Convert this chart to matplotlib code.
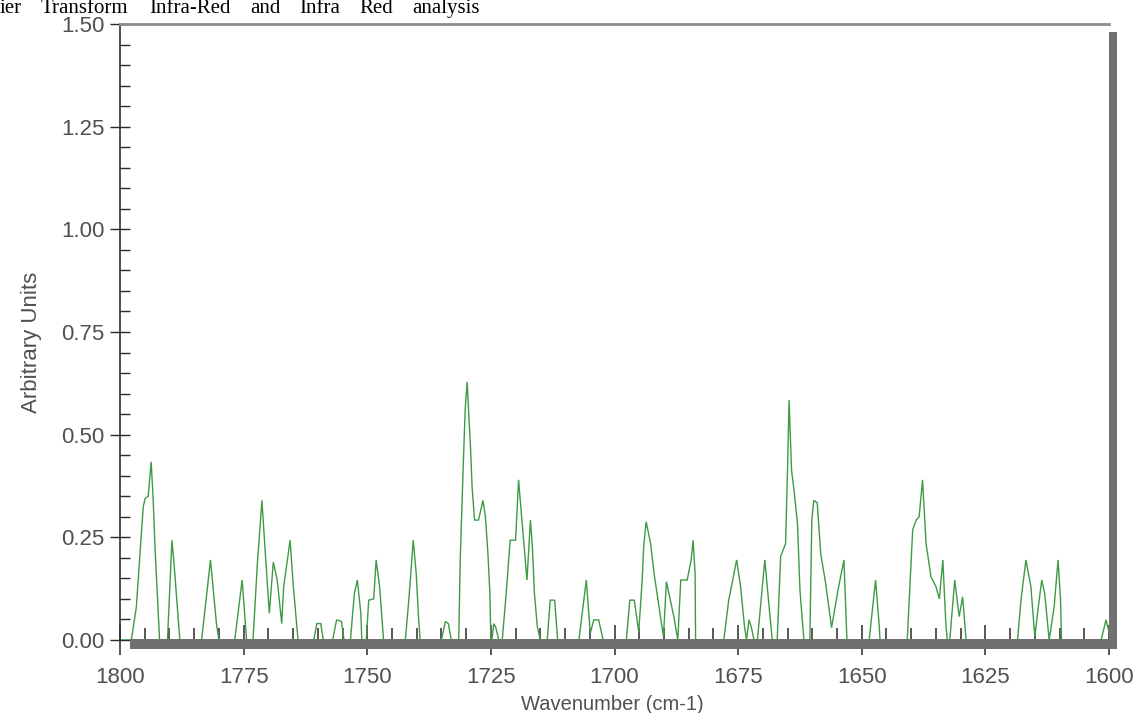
import matplotlib
matplotlib.use("Agg")
import matplotlib.pyplot as plt
from matplotlib.patches import Rectangle
from matplotlib.ticker import MultipleLocator

# ---------------- data ----------------
wavenumber = [
    1800.0, 1797.7, 1796.7, 1795.3, 1794.9, 1794.3, 1793.7, 1793.3, 1792.9, 1792.0,
    1790.4, 1789.5, 1789.1, 1787.9,
    1783.5, 1781.7, 1780.5, 1780.0,
    1776.8, 1775.3, 1774.4,
    1773.1, 1772.2, 1771.3, 1770.5, 1769.8, 1769.0, 1768.2, 1767.3, 1766.9, 1765.6, 1765.0, 1764.0,
    1760.8, 1760.2, 1759.4, 1758.9,
    1757.0, 1756.2, 1755.2, 1754.7,
    1753.4, 1752.6, 1752.0, 1751.3, 1751.1,
    1750.2, 1749.7, 1748.7, 1748.2, 1747.5, 1746.7,
    1742.3, 1741.6, 1740.7, 1740.1, 1739.6, 1739.3,
    1735.0, 1734.2, 1733.6, 1733.0,
    1731.5, 1731.2, 1730.6, 1730.2, 1729.8, 1729.5, 1729.1, 1728.8, 1728.3, 1727.5,
    1726.6, 1726.1, 1725.6, 1725.2, 1725.0,
    1724.8, 1724.4, 1724.0, 1723.4,
    1722.7, 1721.9, 1721.1, 1720.0, 1719.4, 1718.9, 1718.5, 1717.7, 1717.0, 1716.6,
    1716.2, 1715.6, 1715.0,
    1713.6, 1713.0, 1712.1, 1711.5,
    1707.2, 1705.7, 1704.9, 1704.2, 1703.2, 1702.3,
    1697.6, 1696.9, 1696.0, 1695.1, 1694.4, 1694.1, 1693.6, 1692.7, 1692.0, 1691.2,
    1690.1, 1689.5, 1688.7, 1688.0, 1687.2, 1686.6, 1685.3, 1684.5, 1684.1, 1683.7, 1683.6,
    1677.9, 1676.9, 1675.3, 1674.5, 1673.7, 1673.3, 1672.8, 1672.3, 1671.8,
    1671.1, 1669.6, 1668.8, 1668.1,
    1667.1, 1666.4, 1665.4, 1665.0, 1664.7, 1664.2, 1663.7, 1663.0, 1662.5, 1661.7,
    1660.5, 1660.1, 1659.7, 1659.0, 1658.3, 1657.3, 1656.1, 1654.8, 1653.6, 1653.0,
    1648.5, 1647.2, 1646.5, 1646.3,
    1640.8, 1639.7, 1639.0, 1638.4, 1637.7, 1637.0, 1636.0, 1635.0, 1634.3, 1633.6,
    1633.0, 1632.7,
    1632.2, 1631.2, 1630.3, 1629.6, 1628.9,
    1618.5, 1617.8, 1616.8, 1615.8, 1615.0, 1614.3, 1613.6, 1613.0, 1612.1, 1611.1,
    1610.3, 1609.8, 1609.6,
    1601.6, 1600.6, 1600.0,
]
absorbance = [
    0.0, 0.0, 0.08, 0.325, 0.345, 0.35, 0.434, 0.345, 0.22, 0.0,
    0.0, 0.243, 0.19, 0.0,
    0.0, 0.195, 0.04, 0.0,
    0.0, 0.146, 0.0,
    0.0, 0.19, 0.34, 0.19, 0.065, 0.19, 0.146, 0.04, 0.13, 0.243, 0.138, 0.0,
    0.0, 0.04, 0.04, 0.0,
    0.0, 0.049, 0.045, 0.0,
    0.0, 0.114, 0.146, 0.065, 0.0,
    0.0, 0.097, 0.10, 0.195, 0.13, 0.0,
    0.0, 0.097, 0.243, 0.162, 0.049, 0.0,
    0.0, 0.045, 0.04, 0.0,
    0.0, 0.195, 0.42, 0.56, 0.629, 0.56, 0.463, 0.373, 0.292, 0.292,
    0.34, 0.30, 0.211, 0.114, 0.0,
    0.0, 0.04, 0.03, 0.0,
    0.0, 0.114, 0.243, 0.243, 0.39, 0.317, 0.26, 0.146, 0.292, 0.227,
    0.114, 0.032, 0.0,
    0.0, 0.097, 0.097, 0.0,
    0.0, 0.146, 0.016, 0.049, 0.049, 0.0,
    0.0, 0.097, 0.097, 0.02, 0.146, 0.227, 0.288, 0.235, 0.162, 0.097,
    0.008, 0.142, 0.097, 0.057, 0.0, 0.146, 0.146, 0.195, 0.243, 0.16, 0.0,
    0.0, 0.097, 0.195, 0.13, 0.032, 0.0, 0.049, 0.03, 0.0,
    0.0, 0.195, 0.089, 0.0,
    0.0, 0.203, 0.235, 0.42, 0.584, 0.414, 0.365, 0.284, 0.122, 0.0,
    0.0, 0.292, 0.34, 0.334, 0.211, 0.138, 0.03, 0.122, 0.195, 0.0,
    0.0, 0.146, 0.04, 0.0,
    0.0, 0.268, 0.292, 0.30, 0.39, 0.235, 0.154, 0.13, 0.10, 0.195,
    0.04, 0.0,
    0.0, 0.146, 0.057, 0.105, 0.0,
    0.0, 0.097, 0.195, 0.13, 0.008, 0.08, 0.146, 0.113, 0.0, 0.08,
    0.195, 0.097, 0.0,
    0.0, 0.049, 0.02,
]
x_ticks = [1800, 1775, 1750, 1725, 1700, 1675, 1650, 1625, 1600]
y_ticks = [0.00, 0.25, 0.50, 0.75, 1.00, 1.25, 1.50]
x_label = "Wavenumber (cm-1)"
y_label = "Arbitrary Units"
header_words = ["ier", "Transform", "Infra-Red", "and", "Infra", "Red", "analysis"]

# ---------------- figure ----------------
W, H, DPI = 1137, 713, 100
fig = plt.figure(figsize=(W / DPI, H / DPI), dpi=DPI)
fig.patch.set_facecolor("white")

ax_l, ax_r, ax_t, ax_b = 120, 1109, 24, 640   # pixel box of the plot area
ax = fig.add_axes([ax_l / W, 1 - ax_b / H, (ax_r - ax_l) / W, (ax_b - ax_t) / H])
ax.set_facecolor("white")

ax.plot(wavenumber, absorbance, color="#3f9a45", lw=1.0, zorder=2,
        solid_joinstyle="miter")

ax.set_xlim(1800, 1600)
ax.set_ylim(0, 1.5)
ax.set_xticks(x_ticks)
ax.set_yticks(y_ticks)
ax.set_yticklabels([f"{v:.2f}" for v in y_ticks])
ax.xaxis.set_minor_locator(MultipleLocator(5))
ax.yaxis.set_minor_locator(MultipleLocator(0.05))

tick_color = "#2a2a2a"
label_font = "Liberation Sans"
ax.tick_params(axis="x", which="major", direction="inout", length=21, width=1.1,
               color=tick_color, pad=9, labelsize=16, labelcolor="#505050")
ax.tick_params(axis="x", which="minor", direction="in", length=9, width=1.1,
               color=tick_color)
ax.tick_params(axis="y", which="major", direction="inout", length=14, width=1.0,
               color=tick_color, pad=4, labelsize=16, labelcolor="#505050")
ax.tick_params(axis="y", which="minor", direction="in", length=7, width=1.0,
               color=tick_color)
for lab in ax.get_xticklabels() + ax.get_yticklabels():
    lab.set_fontfamily(label_font)

ax.spines["right"].set_visible(False)
ax.spines["bottom"].set_visible(False)
ax.spines["left"].set_color("#303030")
ax.spines["left"].set_linewidth(1.2)
ax.spines["top"].set_color("#8c8c8c")
ax.spines["top"].set_linewidth(2.0)

# 3-D style shadow bars (bottom and right), in axes coordinates
aw, ah = ax_r - ax_l, ax_b - ax_t
bar_col = "#707070"
bottom_bar = Rectangle(((130 - ax_l) / aw, -9 / ah), (1117 - 130) / aw, 10 / ah,
                       transform=ax.transAxes, facecolor=bar_col, edgecolor="none",
                       clip_on=False, zorder=2.2)
right_bar = Rectangle((1.0, -9 / ah), 8 / aw, (ax_b - 32 + 9) / ah,
                      transform=ax.transAxes, facecolor=bar_col, edgecolor="none",
                      clip_on=False, zorder=2.2)
ax.add_patch(bottom_bar)
ax.add_patch(right_bar)

# axis titles
fig.text(612 / W, 1 - 704 / H, x_label, ha="center", va="center",
         fontsize=14.5, color="#505050", family=label_font)
fig.text(31 / W, 1 - 342 / H, y_label, ha="center", va="center", rotation=90,
         fontsize=16, color="#505050", family=label_font)

# cropped document header line above the chart
word_x = [0, 41, 149, 250, 299, 359, 412]
for wx, wd in zip(word_x, header_words):
    fig.text(wx / W, 1 - 13 / H, wd, ha="left", va="baseline",
             fontsize=15, color="black", family="Liberation Serif")

fig.savefig("out.png", dpi=DPI, facecolor="white")
